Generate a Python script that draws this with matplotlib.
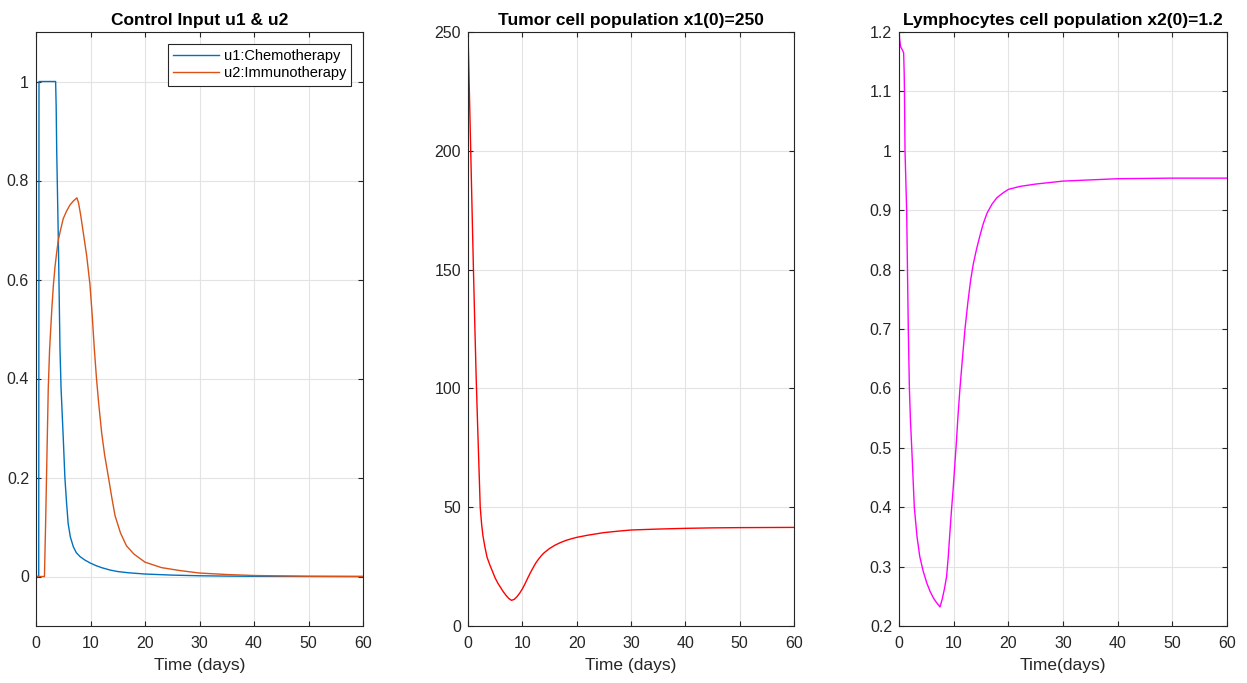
import matplotlib
matplotlib.use("Agg")
import matplotlib.pyplot as plt
from matplotlib.ticker import FormatStrFormatter
import numpy as np

plt.rcParams['font.family'] = ['Liberation Sans', 'DejaVu Sans']

# control inputs
t_u1 = [0, 0.5, 0.55, 3.6, 3.7, 3.8, 3.95, 4.1, 4.25, 4.4, 4.6, 4.8, 5.0, 5.3, 5.6, 5.9, 6.3, 6.85,
        7.4, 8.1, 9, 10, 11, 12, 13.6, 15, 17, 20, 25, 30, 35, 40, 50, 60]
u1 = [0, 0, 1, 1, 0.95, 0.86, 0.77, 0.68, 0.57, 0.46, 0.38, 0.33, 0.28, 0.2, 0.15, 0.107, 0.08, 0.06,
      0.048, 0.04, 0.033, 0.027, 0.022, 0.018, 0.013, 0.01, 0.0075, 0.005, 0.0028, 0.0015, 0.0008,
      0.0004, 0.0001, 0]

t_u2 = [0, 1.55, 1.75, 2.0, 2.25, 2.5, 2.9, 3.2, 3.5, 3.8, 4.1, 4.5, 5.0, 5.6, 6.2, 6.8, 7.5, 7.8, 8.2,
        8.7, 9.3, 9.9, 10.3, 10.7, 11.1, 11.5, 12.05, 12.6, 13.3, 13.9, 14.5, 15.5, 16.6, 18, 20, 23,
        26.4, 30, 35, 40, 50, 60]
u2 = [0, 0, 0.1, 0.24, 0.38, 0.46, 0.54, 0.59, 0.627, 0.655, 0.68, 0.70, 0.723, 0.738, 0.75, 0.758,
      0.765, 0.755, 0.73, 0.693, 0.648, 0.59, 0.53, 0.46, 0.4, 0.35, 0.29, 0.245, 0.2, 0.16, 0.123, 0.088,
      0.062, 0.045, 0.029, 0.018, 0.012, 0.007, 0.004, 0.002, 0.0005, 0]

# tumor cells
t_x1 = [0, 0.25, 0.5, 0.75, 1.0, 1.25, 1.5, 1.75, 2.0, 2.25, 2.5, 2.75, 3.1, 3.5, 4.0, 4.5, 5.0, 5.5,
        6.0, 6.5, 7.0, 7.5, 8.0, 8.5, 9.0, 9.5, 10, 10.5, 11, 11.5, 12, 12.5, 13, 13.5, 14, 15, 16, 17,
        18, 19, 20, 22, 25, 28, 30, 35, 40, 45, 50, 60]
x1 = [250, 225, 200, 175, 150, 127, 105, 86, 68, 50, 43, 38, 33.4, 29, 25.8, 23, 20.2, 18, 16.2, 14.4,
      12.9, 11.6, 10.8, 11.2, 12.3, 13.8, 15.6, 17.8, 20.2, 22.5, 24.6, 26.6, 28.2, 29.6, 30.8, 32.6,
      34, 35.1, 36, 36.7, 37.3, 38.2, 39.3, 40, 40.4, 40.8, 41.1, 41.3, 41.4, 41.5]

# lymphocytes
t_x2 = [0, 0.15, 0.3, 0.6, 0.85, 0.95, 1.0, 1.1, 1.25, 1.4, 1.55, 1.7, 1.9, 2.1, 2.35, 2.8, 3.3, 3.8,
        4.4, 5.1, 5.7, 6.3, 6.9, 7.5, 7.9, 8.3, 8.7, 9.0, 9.3, 9.6, 9.9, 10.2, 10.5, 10.8, 11.15, 11.6,
        12.07, 12.6, 13.1, 13.6, 14.2, 14.8, 15.4, 16.1, 17, 17.9, 19, 20, 22.1, 25, 30, 35, 40, 50, 60]
x2 = [1.2, 1.185, 1.175, 1.17, 1.165, 1.13, 1.1, 1.0, 0.95, 0.9, 0.8, 0.7, 0.6, 0.545, 0.496, 0.40,
      0.35, 0.317, 0.293, 0.272, 0.258, 0.247, 0.239, 0.232, 0.245, 0.262, 0.283, 0.315, 0.356, 0.395,
      0.43, 0.47, 0.51, 0.555, 0.6, 0.65, 0.7, 0.745, 0.782, 0.81, 0.835, 0.857, 0.877, 0.895, 0.91,
      0.921, 0.929, 0.935, 0.94, 0.944, 0.949, 0.951, 0.953, 0.954, 0.954]

dark = '#262626'

def style(ax):
    ax.set_xlim(0, 60)
    ax.set_xticks(np.arange(0, 61, 10))
    ax.grid(True, color='#e3e3e3', linewidth=0.8)
    ax.set_axisbelow(True)
    ax.tick_params(direction='in', top=True, right=True, length=3.5, width=0.8,
                   colors=dark, labelsize=11.5, pad=5)
    ax.tick_params(axis='x', pad=7)
    for s in ax.spines.values():
        s.set_color(dark)
        s.set_linewidth(0.8)
    ax.yaxis.set_major_formatter(FormatStrFormatter('%g'))

fig = plt.figure(figsize=(12.47, 6.83), dpi=100)
bottom = 1 - 626 / 683
height = (626 - 32) / 683

ax1 = fig.add_axes([36 / 1247, bottom, 327 / 1247, height])
ax2 = fig.add_axes([468 / 1247, bottom, 326 / 1247, height])
ax3 = fig.add_axes([899 / 1247, bottom, 328 / 1247, height])

ax1.plot(t_u1, u1, color='#0072BD', lw=1.0, label='u1:Chemotherapy')
ax1.plot(t_u2, u2, color='#D95319', lw=1.0, label='u2:Immunotherapy')
ax1.set_ylim(-0.1, 1.1)
ax1.set_yticks(np.arange(0, 1.01, 0.2))
style(ax1)
ax1.set_title('Control Input u1 & u2', fontsize=12.5, fontweight='bold', pad=5)
ax1.set_xlabel('Time (days)', fontsize=12.5, color=dark, labelpad=5)
leg = ax1.legend(loc='upper right', fontsize=10.5, handlelength=3.2, handletextpad=0.3,
                 borderaxespad=0.8, fancybox=False, framealpha=1, edgecolor=dark,
                 borderpad=0.35, labelspacing=0.25)
leg.get_frame().set_linewidth(0.8)

ax2.plot(t_x1, x1, color='#ff0000', lw=1.0)
ax2.set_ylim(0, 250)
ax2.set_yticks(np.arange(0, 251, 50))
style(ax2)
ax2.set_title('Tumor cell population x1(0)=250', fontsize=12.5, fontweight='bold', pad=5)
ax2.set_xlabel('Time (days)', fontsize=12.5, color=dark, labelpad=5)

ax3.plot(t_x2, x2, color='#ff00ff', lw=1.0)
ax3.set_ylim(0.2, 1.2)
ax3.set_yticks(np.arange(0.2, 1.21, 0.1))
style(ax3)
ax3.set_title('Lymphocytes cell population x2(0)=1.2', fontsize=12.5, fontweight='bold', pad=5)
ax3.set_xlabel('Time(days)', fontsize=12.5, color=dark, labelpad=5)

fig.savefig('out.png', dpi=100)
